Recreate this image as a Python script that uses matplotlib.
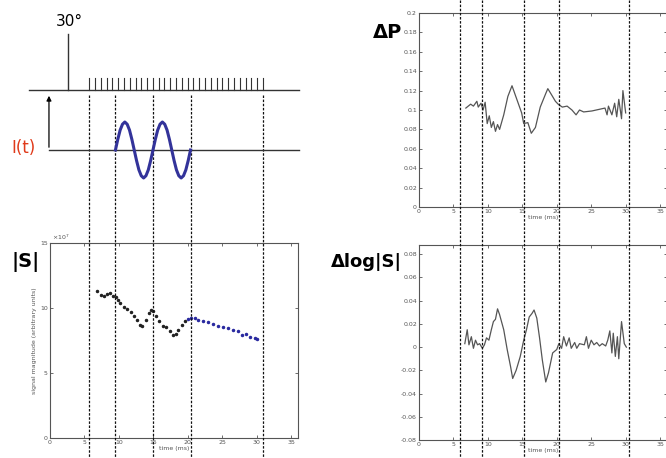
import numpy as np
import matplotlib
matplotlib.use("Agg")
import matplotlib.pyplot as plt

W, H = 666, 458

# |S| samples (x 10^7), black before the end of the gradient, blue after
s_time = [6.8, 7.4, 7.9, 8.3, 8.7, 9.2, 9.6, 9.9, 10.2, 10.7, 11.2, 11.7, 12.2, 12.65,
          13.0, 13.4, 13.9, 14.4, 14.7, 15.0, 15.4, 15.8, 16.4, 16.9, 17.4, 17.9, 18.3,
          18.6, 19.1, 19.6]
s_vals = [11.28, 11.0, 10.95, 11.1, 11.15, 10.95, 10.85, 10.65, 10.4, 10.1, 9.9, 9.7, 9.4, 9.1,
          8.7, 8.65, 9.1, 9.6, 9.87, 9.75, 9.35, 9.0, 8.65, 8.55, 8.2, 7.95, 8.0,
          8.3, 8.7, 9.0]
s_time2 = [20.0, 20.5, 21.0, 21.5, 22.2, 22.9, 23.7, 24.4, 25.1, 25.8, 26.6, 27.3, 27.9,
           28.5, 29.1, 29.7, 30.0]
s_vals2 = [9.15, 9.23, 9.2, 9.1, 9.0, 8.9, 8.8, 8.65, 8.55, 8.45, 8.3, 8.2, 7.95,
           8.0, 7.8, 7.7, 7.65]

# delta P
p_time = [6.8, 7.5, 7.9, 8.4, 8.6, 9.0, 9.3, 9.6, 9.9, 10.2, 10.5, 10.8, 11.1, 11.4, 11.7,
          12.3, 12.9, 13.5, 14.25, 14.9, 15.2, 15.8, 16.3, 16.9, 17.6, 18.4, 18.7, 19.3,
          19.8, 20.2, 20.8, 21.5, 22.2, 22.8, 23.3, 23.9, 25.1, 27.0, 27.3, 27.5, 28.0,
          28.4, 28.7, 29.0, 29.4, 29.6, 30.0]
p_vals = [0.102, 0.106, 0.104, 0.109, 0.103, 0.107, 0.1, 0.108, 0.086, 0.094, 0.082, 0.088,
          0.078, 0.085, 0.08, 0.095, 0.114, 0.125, 0.11, 0.097, 0.086, 0.087, 0.076, 0.082,
          0.103, 0.117, 0.122, 0.115, 0.109, 0.106, 0.103, 0.104, 0.1, 0.095, 0.1, 0.098,
          0.099, 0.102, 0.095, 0.104, 0.095, 0.107, 0.093, 0.111, 0.091, 0.12, 0.097]

# delta log|S|
l_time = [6.65, 7.0, 7.25, 7.6, 7.9, 8.2, 8.5, 8.8, 9.2, 9.5, 9.8, 10.15, 10.5, 10.8, 11.1,
          11.4, 11.7, 12.3, 12.8, 13.3, 13.6, 14.1, 14.7, 15.2, 15.6, 16.0, 16.4, 16.7,
          17.1, 17.5, 17.9, 18.4, 18.8, 19.4, 20.0, 20.3, 20.7, 21.0, 21.4, 21.8, 22.1,
          22.6, 22.9, 23.3, 24.0, 24.3, 24.6, 25.0, 25.4, 25.8, 26.2, 26.6, 27.1, 27.4,
          27.7, 28.0, 28.2, 28.5, 28.8, 29.0, 29.4, 29.8, 30.1]
l_vals = [0.003, 0.015, 0.002, 0.009, -0.001, 0.006, 0.002, 0.003, -0.001, 0.002, 0.008,
          0.006, 0.015, 0.022, 0.024, 0.033, 0.028, 0.015, -0.002, -0.017, -0.027, -0.02,
          -0.008, 0.006, 0.015, 0.026, 0.029, 0.032, 0.025, 0.008, -0.011, -0.03, -0.022,
          -0.005, -0.002, 0.003, -0.001, 0.009, 0.001, 0.008, -0.001, 0.004, -0.001, 0.003,
          0.002, 0.009, -0.001, 0.006, 0.002, 0.004, 0.001, 0.003, 0.001, 0.006, 0.014,
          -0.005, 0.012, -0.008, 0.009, -0.01, 0.022, 0.003, 0.0]

# schematic: gradient waveform (normalised) and events
g_wave = [0, .38, .71, .92, 1, .92, .71, .38, 0, -.38, -.71, -.92, -1, -.92, -.71, -.38,
          0, .38, .71, .92, 1, .92, .71, .38, 0, -.38, -.71, -.92, -1, -.92, -.71, -.38, 0]
g_start, g_end = 9.5, 20.4
flip_time = 2.6
train_start, train_end, n_pulses = 5.7, 30.9, 31
left_marks = [5.7, 9.5, 15.0, 20.4, 30.9]
right_marks = [5.9, 9.1, 15.3, 20.3, 30.5]

fig = plt.figure(figsize=(W / 100, H / 100), dpi=100)


def px_axes(l, t, r, b):
    return fig.add_axes([l / W, (H - b) / H, (r - l) / W, (b - t) / H])


def style(ax):
    for sp in ax.spines.values():
        sp.set_color("#555555")
        sp.set_linewidth(0.8)
    ax.tick_params(direction="in", length=2, width=0.6, labelsize=4.5,
                   colors="#555555", pad=1.5, top=True, right=True)


gray = "#555555"

# |S| panel
ax_s = px_axes(50, 243, 298, 438)
ax_s.plot(s_time, s_vals, ".", color="#222222", ms=3)
ax_s.plot(s_time2, s_vals2, ".", color="#2a2aa0", ms=3)
ax_s.set_xlim(0, 36)
ax_s.set_ylim(0, 15)
ax_s.set_xticks(range(0, 36, 5))
ax_s.set_yticks([0, 5, 10, 15])
ax_s.set_xlabel("time (ms)", fontsize=4.5, color=gray, labelpad=1)
ax_s.set_ylabel("signal magnitude (arbitrary units)", fontsize=4.5, color=gray, labelpad=2)
ax_s.text(0.01, 1.005, r"$\times10^7$", transform=ax_s.transAxes, fontsize=4.5,
          color=gray, va="bottom")
style(ax_s)

# delta P panel
ax_p = px_axes(419, 13, 667, 207)
ax_p.plot(p_time, p_vals, color="#555555", lw=0.9)
ax_p.set_xlim(0, 36)
ax_p.set_ylim(0, 0.2)
ax_p.set_xticks(range(0, 36, 5))
ax_p.set_yticks(np.arange(0, 0.201, 0.02))
ax_p.set_yticklabels(["0", "0.02", "0.04", "0.06", "0.08", "0.1", "0.12", "0.14",
                      "0.16", "0.18", "0.2"])
ax_p.set_xlabel("time (ms)", fontsize=4.5, color=gray, labelpad=1)
style(ax_p)

# delta log|S| panel
ax_l = px_axes(419, 245, 667, 440)
ax_l.plot(l_time, l_vals, color="#555555", lw=0.9)
ax_l.set_xlim(0, 36)
ax_l.set_ylim(-0.08, 0.088)
ax_l.set_xticks(range(0, 36, 5))
ax_l.set_yticks(np.arange(-0.08, 0.081, 0.02))
ax_l.set_yticklabels(["-0.08", "-0.06", "-0.04", "-0.02", "0", "0.02", "0.04", "0.06", "0.08"])
ax_l.set_xlabel("time (ms)", fontsize=4.5, color=gray, labelpad=1)
style(ax_l)

# overlay for the schematic and dashed event lines (x in ms, y in pixels)
ov_l = px_axes(50, 0, 298, H)
ov_l.set_xlim(0, 36)
ov_l.set_ylim(H, 0)
ov_l.axis("off")
ov_l.patch.set_alpha(0)

dash = dict(color="#111111", lw=0.9, ls=(0, (2, 1.3)), clip_on=False)
for t in left_marks:
    ov_l.plot([t, t], [95, H], **dash)

ov_l.plot([-3.0, 36.2], [90, 90], color="#333333", lw=1, clip_on=False)
ov_l.plot([flip_time, flip_time], [34, 90], color="#333333", lw=1, clip_on=False)
for t in np.linspace(train_start, train_end, n_pulses):
    ov_l.plot([t, t], [78, 90], color="#333333", lw=0.8, clip_on=False)
ov_l.text(flip_time + 0.2, 22, "30°", fontsize=11, ha="center", va="center")

ov_l.plot([-0.15, 36.2], [150, 150], color="#333333", lw=1, clip_on=False)
ov_l.annotate("", xy=(-0.15, 93), xytext=(-0.15, 150),
              arrowprops=dict(arrowstyle="-|>", color="black", lw=0.9, mutation_scale=7),
              annotation_clip=False)
gx = np.linspace(g_start, g_end, len(g_wave))
ov_l.plot(gx, 150 - 28 * np.array(g_wave), color="#33339a", lw=2.2, clip_on=False)
ov_l.text(-3.8, 148, "I(t)", color="#e03a1a", fontsize=12, ha="center", va="center")
ov_l.text(-3.6, 262, "|S|", fontsize=14, fontweight="bold", ha="center", va="center")

ov_r = px_axes(419, 0, 667, H)
ov_r.set_xlim(0, 36)
ov_r.set_ylim(H, 0)
ov_r.axis("off")
ov_r.patch.set_alpha(0)
for t in right_marks:
    ov_r.plot([t, t], [0, H], **dash)
ov_r.text(-4.6, 32, "ΔP", fontsize=14, fontweight="bold", ha="center", va="center")
ov_r.text(-7.7, 262, "Δlog|S|", fontsize=13, fontweight="bold", ha="center", va="center")

fig.savefig("out.png", dpi=100)
